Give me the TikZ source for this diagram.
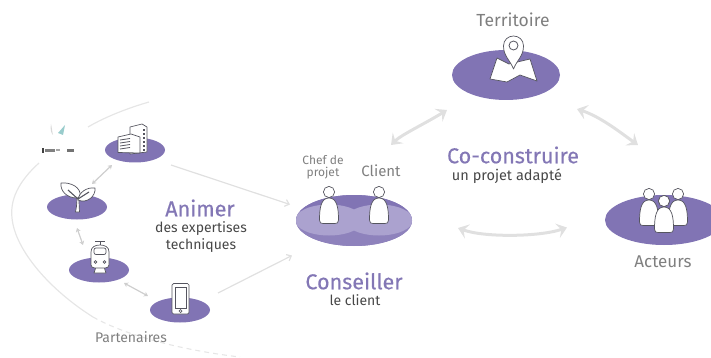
\documentclass[tikz,border=0pt]{standalone}
\usepackage{fontspec}
\setmainfont{Fira Sans}
\newfontfamily\ttlfont[FakeBold=0.35]{Fira Sans}
\usetikzlibrary{shapes.geometric,arrows.meta}
\definecolor{violet}{HTML}{8174B4}
\definecolor{violetl}{HTML}{ABA2CF}
\definecolor{violetb}{HTML}{8E82BC}
\definecolor{violett}{HTML}{8377B5}
\definecolor{ink}{HTML}{55555F}
\definecolor{lab}{HTML}{7F7F7F}
\definecolor{arc}{HTML}{E6E6E6}
\definecolor{arr}{HTML}{E0E0E0}
\tikzset{
 blob/.style={ellipse,fill=violet,draw=none,inner sep=0pt},
 small/.style={blob,minimum width=60pt,minimum height=25pt},
 big/.style={blob,minimum width=108pt,minimum height=50pt},
 lbl/.style={text=lab,inner sep=0pt,font=\fontsize{15}{15}\selectfont},
 ttl/.style={text=violett,font=\fontsize{21.5}{21.5}\selectfont\ttlfont,inner sep=0pt},
 sub/.style={text=black!72,font=\fontsize{14}{17}\selectfont,inner sep=0pt,align=center},
 bigarr/.style={draw=arr,line width=3pt,{Stealth[length=10pt,width=15pt,inset=4pt]}-{Stealth[length=10pt,width=15pt,inset=4pt]}},
 smallarr/.style={draw=arr!92!black,line width=1.2pt,{Stealth[length=4pt,width=5pt]}-{Stealth[length=4pt,width=5pt]}},
 linkarr/.style={draw=arr,line width=1.2pt,-{Straight Barb[length=4pt,width=7pt]}},
 ic/.style={draw=ink,line width=.7pt,fill=white,line join=round},
 person/.pic={
  \path[ic] (0,-5) circle (5.6);
  \path[ic] (-9.5,23) .. controls (-9.5,11) and (-8,1) .. (0,1) .. controls (8,1) and (9.5,11) .. (9.5,23) .. controls (9.5,26) and (8,26.5) .. (6,26.5) -- (-6,26.5) .. controls (-8,26.5) and (-9.5,26) .. (-9.5,23) -- cycle;
 }
}
\begin{document}
\begin{tikzpicture}[x=1pt,y=-1pt]
\useasboundingbox (0,0) rectangle (711,358);
% partner arc
\draw[arc,line width=1.2pt] (149,102) .. controls (128,108) and (105,117) .. (88,127);
\draw[arc,line width=1.2pt] (39,163) .. controls (18,182) and (10,200) .. (12,218) .. controls (15,250) and (50,290) .. (93,317);
\draw[arc,line width=1.1pt,dash pattern=on 5pt off 4pt] (93,317) .. controls (125,335) and (180,350) .. (240,357);
% logo smudge
\fill[teal!40] (58,133) -- (65,125) -- (63,135) -- cycle;
\fill[black!15] (51,124) .. controls (50,129) and (51,133) .. (53,135) .. controls (52,131) and (52,128) .. (51,124) -- cycle;
\fill[black!75] (41.5,148.5) rectangle (44,153);
\fill[black!50] (45,149.5) rectangle (55,152.5);
\fill[black!35] (56,149.5) rectangle (60,151);
\fill[black!55] (67,149.5) rectangle (74,152.5);
% ellipses
\node[small] (bld) at (135,150) {};
\node[small] (plt) at (77,207) {};
\node[small] (trn) at (99,270) {};
\node[small] (phn) at (180,310) {};
\node[big] (ter) at (506,75) {};
\node[big,minimum width=118pt] (act) at (664,220) {};
\node[big,minimum width=116pt,minimum height=51pt] (cns) at (354,220.5) {};
\begin{scope}
\clip (354,220.5) ellipse (58 and 25.5);
\fill[violetb] (296,220) rectangle (412,246);
\fill[violet] (296,195) rectangle (412,220);
\fill[violetl] (329,220) ellipse (34 and 15.5);
\fill[violetl] (379,220) ellipse (34 and 15.5);
\end{scope}
% connectors
\draw[bigarr] ([shift={(-59,35)}]ter.center) .. controls ([shift={(-80,48)}]ter.center) and ([shift={(-105,60)}]ter.center) .. ([shift={(37,-75.5)}]cns.center);
\draw[bigarr] ([shift={(71,34)}]ter.center) .. controls ([shift={(95,42)}]ter.center) and ([shift={(115,58)}]ter.center) .. ([shift={(-26,-75)}]act.center);
\draw[bigarr] ([shift={(104,7.5)}]cns.center) .. controls ([shift={(130,17)}]cns.center) and ([shift={(-125,17)}]act.center) .. ([shift={(-97,7.5)}]act.center);
\draw[smallarr] ([shift={(-23,15)}]bld.center) -- ([shift={(15,-23)}]plt.center);
\draw[smallarr] ([shift={(0,21)}]plt.center) -- ([shift={(-16,-25)}]trn.center);
\draw[smallarr] ([shift={(25,13)}]trn.center) -- ([shift={(-32,-14)}]phn.center);
\draw[linkarr] ([shift={(36,15)}]bld.center) -- ([shift={(-64,-16)}]cns.center);
\draw[linkarr] ([shift={(38,-17)}]phn.center) -- ([shift={(-62,35)}]cns.center);
% building
\path[ic] (130,132) -- (130,127) -- (142,124) -- (147,127) -- (147,152) -- (130,154) -- cycle;
\path[ic] (118,137) -- (131,134) -- (140,137) -- (140,153) -- (118,152.5) -- cycle;
\foreach \y in {140,143,146,149} \draw[ink,line width=.8pt] (120,\y) -- (130,\y-1.5);
\foreach \y in {129,133,137,141,145,149} \fill[ink] (143,\y) rectangle (145,\y+2);
% plant
\path[ic] (75.5,212) .. controls (77,205) and (77,200) .. (77,195) -- (79,195) .. controls (79,200) and (79,205) .. (79.5,212) -- cycle;
\path[ic] (77,198) .. controls (68,198) and (60,192) .. (61,183) .. controls (70,182) and (82,187) .. (80,197) -- cycle;
\path[ic] (78,200) .. controls (79,192) and (87,187) .. (95,188) .. controls (96,196) and (87,204) .. (78,200) -- cycle;
\draw[ink,line width=1.1pt] (78,199) -- (68,190);
\draw[ink,line width=1.1pt] (78,199) -- (89,192);
% train
\draw[ink,line width=.9pt] (95,241.5) -- (105,241.5) (100,241.5) -- (100,245);
\path[ic] (96,267) -- (104,267) -- (106,273) -- (94,273) -- cycle;
\path[ic] (91,252) .. controls (91,247) and (95,245) .. (100,245) .. controls (105,245) and (109,247) .. (109,252) -- (109,265) .. controls (109,267) and (107,268) .. (105,268) -- (95,268) .. controls (93,268) and (91,267) .. (91,265) -- cycle;
\path[ic,rounded corners=2pt] (94,248) rectangle (106,254.5);
\draw[ink,line width=.7pt] (95.5,262) circle (1.4) (104.5,262) circle (1.4);
% phone
\path[ic,rounded corners=1.5pt] (172,283.5) rectangle (189,314);
\draw[ink,line width=.8pt] (175,287) rectangle (186,308);
\draw[ink,line width=.7pt] (180.5,311) circle (1.5);
% pin and map
\path[ic] (490,79) -- (497,58) -- (509,64) -- (530,59) -- (537,81) -- (520,75) -- (507,82) -- cycle;
\path[ic] (513.5,69) .. controls (510,60) and (503.5,56) .. (503.5,46) .. controls (503.5,40) and (508,36) .. (513.5,36) .. controls (519,36) and (523.5,40) .. (523.5,46) .. controls (523.5,56) and (517,60) .. (513.5,69) -- cycle;
\draw[ink,line width=.8pt] (513.5,45.5) circle (4.5);
% people
\pic at (329,197) {person};
\pic at (379,197) {person};
\pic at (649,199) {person};
\pic at (678,199) {person};
\path[ic] (664,201) circle (5.6);
\pic at (664,206) {person};
% labels
\node[lbl,font=\fontsize{17.5}{17.5}\selectfont] (t1) at (513,20) {Territoire};
\node[lbl,font=\fontsize{17}{17}\selectfont] (t2) at (663,262) {Acteurs};
\node[lbl] (t3) at (381,171) {Client};
\node[lbl,align=center,font=\fontsize{12}{11.5}\selectfont] (t4) at (323,167.5) {Chef de\\projet};
\node[lbl,font=\fontsize{14}{14}\selectfont] (t5) at (131,337) {Partenaires};
\node[ttl] (t6) at (513,155) {Co-construire};
\node[sub,font=\fontsize{14.5}{14.5}\selectfont] (t7) at (507,176.5) {un projet adapté};
\node[ttl] (t8) at (354,281) {Conseiller};
\node[sub] (t9) at (355,300) {le client};
\node[ttl] (t10) at (200,208) {Animer};
\node[sub] (t11) at (201,237.5) {des expertises\\techniques};
\end{tikzpicture}
\end{document}
